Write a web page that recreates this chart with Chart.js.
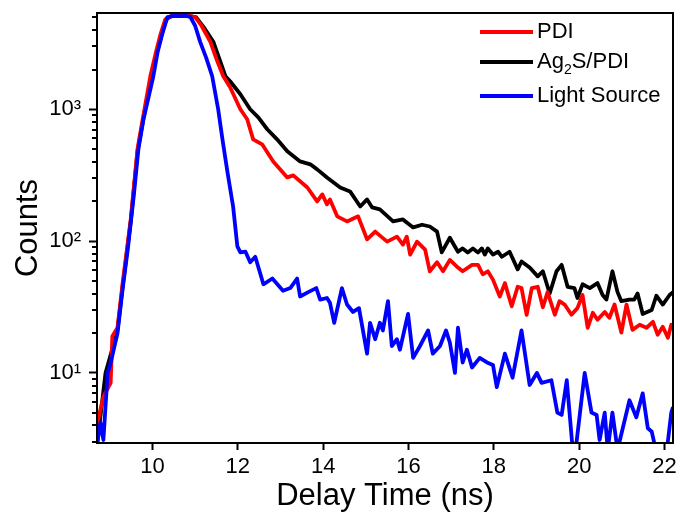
<!DOCTYPE html>
<html>
<head>
<meta charset="utf-8">
<script src="https://cdn.jsdelivr.net/npm/chart.js@4/dist/chart.umd.min.js"></script>
<style>
  body { margin: 0; background: #fff; }
  #wrap { width: 679px; height: 515px; position: relative; }
</style>
</head>
<body>
<div id="wrap"><canvas id="decayChart"></canvas></div>
<script>
// Decay curves (time in ns, counts)
const pdiTime = [8.67, 8.71, 8.85, 9.02, 9.06, 9.18, 9.30, 9.49, 9.65, 9.77, 9.95, 10.08, 10.19, 10.30, 10.45, 10.65, 10.85, 11.00, 11.15, 11.36, 11.50, 11.66, 11.82, 12.06, 12.22, 12.36, 12.57, 12.83, 13.16, 13.30, 13.63, 13.86, 13.98, 14.09, 14.16, 14.33, 14.56, 14.82, 15.03, 15.22, 15.50, 15.73, 15.87, 15.96, 16.04, 16.20, 16.39, 16.50, 16.67, 16.81, 16.97, 17.16, 17.27, 17.49, 17.63, 17.74, 17.86, 17.98, 18.14, 18.26, 18.42, 18.56, 18.65, 18.77, 18.89, 19.03, 19.15, 19.26, 19.43, 19.54, 19.66, 19.82, 19.96, 20.08, 20.20, 20.32, 20.43, 20.60, 20.71, 20.83, 20.99, 21.11, 21.25, 21.42, 21.58, 21.73, 21.84, 21.96, 22.08, 22.16, 22.2];
const pdiCounts = [3.2, 4.2, 6.6, 8.4, 19, 22, 48, 146, 500, 839, 1780, 2700, 3720, 4800, 5100, 5100, 5100, 5000, 4300, 3230, 2400, 1780, 1470, 1000, 839, 591, 542, 402, 304, 315, 255, 200, 226, 190, 207, 154, 141, 154, 103, 118, 99, 108, 94, 108, 79, 99, 86, 59, 69, 59, 72, 63, 59, 66, 66, 56, 59, 51, 38, 48, 32, 45, 44, 27.6, 44, 45, 31.5, 41, 27.6, 35, 33, 27.6, 31, 39, 22, 28.6, 25.3, 29, 26.2, 33, 20.2, 33, 21.2, 23.2, 22, 24.4, 19.5, 22.4, 18.5, 23.2, 23];

const agTime = [8.67, 8.71, 8.90, 9.18, 9.30, 9.49, 9.65, 9.79, 9.97, 10.10, 10.21, 10.32, 10.45, 10.65, 10.85, 11.02, 11.20, 11.43, 11.57, 11.71, 11.82, 12.06, 12.29, 12.48, 12.69, 12.92, 13.16, 13.46, 13.70, 13.86, 14.09, 14.40, 14.63, 14.87, 15.03, 15.15, 15.33, 15.64, 15.87, 16.11, 16.32, 16.50, 16.67, 16.78, 16.97, 17.16, 17.27, 17.39, 17.51, 17.63, 17.72, 17.79, 17.86, 17.98, 18.10, 18.19, 18.37, 18.56, 18.65, 18.84, 19.03, 19.15, 19.31, 19.47, 19.59, 19.73, 19.89, 19.96, 20.08, 20.25, 20.43, 20.55, 20.64, 20.78, 20.90, 20.99, 21.18, 21.29, 21.37, 21.49, 21.70, 21.81, 21.96, 22.12, 22.2];
const agCounts = [2.8, 3.0, 10, 21, 45, 140, 480, 860, 1750, 2650, 3650, 4800, 5100, 5100, 5100, 5000, 4200, 3230, 2400, 1780, 1630, 1300, 1000, 869, 705, 591, 480, 402, 382, 350, 304, 255, 238, 183, 207, 180, 174, 141, 146, 127, 133, 129, 118, 82, 106, 83, 88, 82, 88, 82, 88, 79, 88, 79, 83, 76, 83, 61, 70, 63, 54, 59, 40, 59, 66, 45, 44, 37, 47, 44, 48, 39, 36, 59, 41, 35, 36, 36, 40, 28, 30, 38.5, 33, 39, 41];

const lampTime = [8.67, 8.71, 8.78, 8.85, 8.95, 9.02, 9.18, 9.30, 9.42, 9.56, 9.67, 9.79, 10.02, 10.12, 10.23, 10.35, 10.50, 10.65, 10.80, 10.89, 11.00, 11.12, 11.26, 11.40, 11.54, 11.64, 11.76, 11.89, 11.99, 12.06, 12.18, 12.29, 12.41, 12.60, 12.81, 13.06, 13.23, 13.39, 13.46, 13.65, 13.84, 13.93, 14.09, 14.16, 14.26, 14.44, 14.56, 14.70, 14.84, 15.03, 15.10, 15.22, 15.33, 15.40, 15.52, 15.61, 15.73, 15.80, 15.99, 16.11, 16.27, 16.46, 16.57, 16.74, 16.88, 16.97, 17.09, 17.16, 17.27, 17.37, 17.49, 17.67, 17.84, 17.98, 18.07, 18.26, 18.44, 18.65, 18.84, 19.01, 19.12, 19.35, 19.49, 19.59, 19.71, 19.85, 19.94, 20.13, 20.29, 20.41, 20.48, 20.60, 20.67, 20.78, 20.90, 21.18, 21.34, 21.49, 21.61, 21.70, 21.81, 22.05, 22.16, 22.2];
const lampCounts = [2.5, 3.0, 4.2, 3.1, 10, 11.9, 20, 43, 86, 218, 497, 839, 1780, 2700, 3720, 5000, 5100, 5080, 5100, 5000, 4300, 3230, 2450, 1780, 1000, 591, 330, 183, 91, 82, 83, 69, 76, 47, 52, 42, 44, 52, 38, 41, 44, 36, 37, 34, 24, 44, 33, 29, 31, 14, 24, 18, 24, 21, 35, 16, 18, 15, 28, 13, 16, 21, 14, 16, 21, 17, 10, 22, 12, 15, 11, 13, 12, 11.5, 7.8, 14, 9.2, 21, 8.1, 10, 8.4, 8.8, 5.0, 4.8, 8.8, 2.6, 3.0, 10, 5.0, 4.8, 3.1, 5.0, 2.6, 5.0, 2.6, 6.2, 4.6, 7.0, 3.8, 3.6, 2.5, 2.5, 5.0, 5.5];

// Axis ticks
const xTickValues = [10, 12, 14, 16, 18, 20, 22];
const yTickValues = [10, 100, 1000];
const yTickLabels = ["10\u00B9", "10\u00B2", "10\u00B3"];
const yMinorValues = [3, 4, 5, 6, 7, 8, 9, 20, 30, 40, 50, 60, 70, 80, 90, 200, 300, 400, 500, 600, 700, 800, 900, 2000, 3000, 4000, 5000];

const FONT = "Arial, 'Liberation Sans', sans-serif";

function toPoints(times, counts) {
  return times.map((t, i) => ({ x: t, y: counts[i] }));
}

// Frame on top/right and minor ticks on the log axis
const framePlugin = {
  id: "frame",
  afterDraw(chart) {
    const { ctx, chartArea } = chart;
    const yScale = chart.scales.y;
    ctx.save();
    ctx.strokeStyle = "#000";
    ctx.lineWidth = 2;
    ctx.strokeRect(chartArea.left, chartArea.top, chartArea.right - chartArea.left, chartArea.bottom - chartArea.top);
    ctx.beginPath();
    yMinorValues.forEach((v) => {
      const py = Math.round(yScale.getPixelForValue(v));
      if (py < chartArea.top || py > chartArea.bottom) return;
      ctx.moveTo(chartArea.left, py);
      ctx.lineTo(chartArea.left - 5, py);
    });
    ctx.stroke();
    ctx.restore();
  },
};

// Legend in the upper right corner (Ag2S needs a subscript)
const legendPlugin = {
  id: "cornerLegend",
  afterDraw(chart) {
    const ctx = chart.ctx;
    const rows = [
      { color: "#ff0000", y: 32, parts: [["PDI", false]] },
      { color: "#000000", y: 62, parts: [["Ag", false], ["2", true], ["S/PDI", false]] },
      { color: "#0000ff", y: 96, parts: [["Light Source", false]] },
    ];
    ctx.save();
    ctx.textBaseline = "middle";
    rows.forEach((row) => {
      ctx.strokeStyle = row.color;
      ctx.lineWidth = 3.8;
      ctx.beginPath();
      ctx.moveTo(480, row.y);
      ctx.lineTo(533, row.y);
      ctx.stroke();
      let x = 537;
      ctx.fillStyle = "#000";
      row.parts.forEach(([text, sub]) => {
        ctx.font = (sub ? "14px " : "22px ") + FONT;
        ctx.fillText(text, x, sub ? row.y + 8 : row.y);
        x += ctx.measureText(text).width;
      });
    });
    ctx.restore();
  },
};

const ctx = document.getElementById("decayChart").getContext("2d");
const decayChart = new Chart(ctx, {
  type: "line",
  data: {
    datasets: [
      {
        label: "Light Source",
        data: toPoints(lampTime, lampCounts),
        borderColor: "#0000ff",
        order: 0,
      },
      {
        label: "PDI",
        data: toPoints(pdiTime, pdiCounts),
        borderColor: "#ff0000",
        order: 1,
      },
      {
        label: "Ag2S/PDI",
        data: toPoints(agTime, agCounts),
        borderColor: "#000000",
        order: 2,
      },
    ],
  },
  options: {
    responsive: true,
    maintainAspectRatio: false,
    animation: false,
    clip: 0,
    elements: {
      line: { borderWidth: 3.8, tension: 0, borderJoinStyle: "round" },
      point: { radius: 0 },
    },
    layout: { padding: { top: 13, right: 6, left: 0, bottom: 0 } },
    plugins: {
      legend: { display: false },
      tooltip: { enabled: false },
    },
    scales: {
      x: {
        type: "linear",
        min: 8.7,
        max: 22.2,
        afterBuildTicks: (scale) => {
          scale.ticks = xTickValues.map((v) => ({ value: v }));
        },
        afterFit: (scale) => {
          scale.height = 72;
          scale.paddingLeft = 0;
          scale.paddingRight = 0;
        },
        ticks: {
          color: "#000",
          font: { family: FONT, size: 22 },
          padding: 4,
          maxRotation: 0,
          autoSkip: false,
        },
        grid: {
          drawOnChartArea: false,
          drawTicks: true,
          tickLength: 7,
          tickWidth: 2,
          tickColor: "#000",
        },
        border: { color: "#000", width: 2 },
        title: {
          display: true,
          text: "Delay Time (ns)",
          color: "#000",
          font: { family: FONT, size: 31 },
          padding: { top: 0, bottom: 0 },
        },
      },
      y: {
        type: "logarithmic",
        min: 2.94,
        max: 5370,
        afterBuildTicks: (scale) => {
          scale.ticks = yTickValues.map((v) => ({ value: v }));
        },
        afterFit: (scale) => {
          scale.width = 97;
          scale.paddingTop = 0;
          scale.paddingBottom = 0;
        },
        ticks: {
          color: "#000",
          font: { family: FONT, size: 22 },
          padding: 8,
          callback: (value) => {
            const i = yTickValues.indexOf(value);
            return i >= 0 ? yTickLabels[i] : "";
          },
        },
        grid: {
          drawOnChartArea: false,
          drawTicks: true,
          tickLength: 8,
          tickWidth: 2,
          tickColor: "#000",
        },
        border: { color: "#000", width: 2 },
        title: {
          display: true,
          text: "Counts",
          color: "#000",
          font: { family: FONT, size: 31 },
          padding: { top: 10, bottom: 0 },
        },
      },
    },
  },
  plugins: [framePlugin, legendPlugin],
});
</script>
</body>
</html>
